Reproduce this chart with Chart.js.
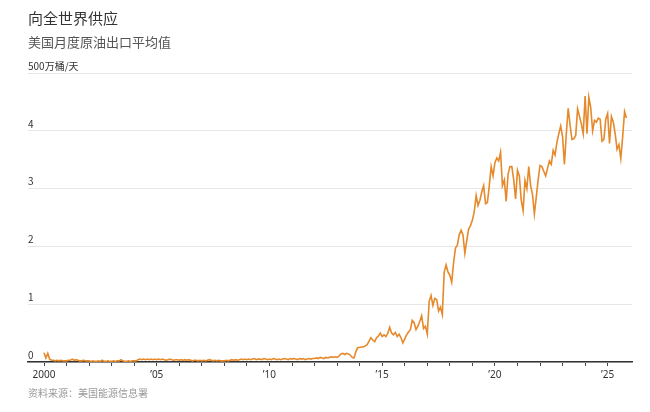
<!DOCTYPE html>
<html>
<head>
<meta charset="utf-8">
<script src="https://cdn.jsdelivr.net/npm/chart.js@4"></script>
<style>
  body { margin: 0; background: #fff; }
  #wrap { position: relative; width: 650px; height: 412px; font-family: "Noto Sans CJK SC", "Noto Sans", sans-serif; }
  #wrap canvas { position: absolute; left: 0; top: 0; }
  .txt { position: absolute; left: 28px; line-height: 1; white-space: nowrap; }
  #title { top: 10px; font-size: 15px; color: #333; }
  #subtitle { top: 35px; font-size: 13px; color: #555; }
  #source { top: 388px; font-size: 10px; color: #999; }
</style>
</head>
<body>
<div id="wrap">
  <canvas id="chart" width="650" height="412"></canvas>
  <div class="txt" id="title">向全世界供应</div>
  <div class="txt" id="subtitle">美国月度原油出口平均值</div>
  <div class="txt" id="source">资料来源：美国能源信息署</div>
</div>
<script>
// 美国月度原油出口, 百万桶/天 (图上读数)
const years = [2000, 2001, 2002, 2003, 2004, 2005, 2006, 2007, 2008, 2009, 2010, 2011, 2012,
               2013, 2014, 2015, 2016, 2017, 2018, 2019, 2020, 2021, 2022, 2023, 2024, 2025];

const v2000 = [0.16, 0.07, 0.15, 0.05, 0.03, 0.03, 0.02, 0.03, 0.02, 0.03, 0.02, 0.02];
const v2001 = [0.02, 0.03, 0.03, 0.05, 0.03, 0.04, 0.03, 0.02, 0.02, 0.03, 0.02, 0.02];
const v2002 = [0.02, 0.01, 0.02, 0.01, 0.01, 0.02, 0.01, 0.03, 0.01, 0.01, 0.02, 0.01];
const v2003 = [0.01, 0.02, 0.01, 0.02, 0.02, 0.04, 0.02, 0.01, 0.01, 0.02, 0.01, 0.02];
const v2004 = [0.02, 0.02, 0.04, 0.05, 0.04, 0.05, 0.04, 0.05, 0.04, 0.05, 0.04, 0.05];
const v2005 = [0.04, 0.05, 0.04, 0.05, 0.04, 0.03, 0.04, 0.05, 0.04, 0.03, 0.04, 0.04];
const v2006 = [0.03, 0.04, 0.03, 0.04, 0.03, 0.04, 0.03, 0.02, 0.03, 0.03, 0.02, 0.03];
const v2007 = [0.02, 0.03, 0.02, 0.03, 0.04, 0.03, 0.02, 0.03, 0.02, 0.03, 0.02, 0.02];
const v2008 = [0.02, 0.03, 0.02, 0.03, 0.04, 0.03, 0.04, 0.03, 0.04, 0.05, 0.04, 0.05];
const v2009 = [0.04, 0.05, 0.04, 0.05, 0.06, 0.04, 0.05, 0.05, 0.04, 0.06, 0.05, 0.04];
const v2010 = [0.05, 0.04, 0.06, 0.05, 0.04, 0.05, 0.04, 0.05, 0.06, 0.05, 0.04, 0.06];
const v2011 = [0.05, 0.06, 0.05, 0.04, 0.06, 0.05, 0.06, 0.04, 0.05, 0.06, 0.05, 0.06];
const v2012 = [0.06, 0.07, 0.06, 0.08, 0.07, 0.06, 0.08, 0.07, 0.08, 0.09, 0.08, 0.09];
const v2013 = [0.08, 0.10, 0.14, 0.15, 0.13, 0.15, 0.14, 0.12, 0.08, 0.07, 0.18, 0.25];
const v2014 = [0.25, 0.26, 0.26, 0.28, 0.30, 0.36, 0.42, 0.38, 0.35, 0.42, 0.45, 0.50];
const v2015 = [0.44, 0.47, 0.44, 0.50, 0.60, 0.50, 0.47, 0.51, 0.44, 0.48, 0.42, 0.33];
const v2016 = [0.40, 0.47, 0.52, 0.56, 0.72, 0.68, 0.56, 0.62, 0.70, 0.80, 0.58, 0.62];
const v2017 = [0.48, 1.05, 1.15, 0.98, 1.10, 1.08, 0.88, 0.95, 0.82, 1.55, 1.68, 1.56];
const v2018 = [1.50, 1.38, 1.72, 1.97, 2.02, 2.20, 2.28, 2.20, 1.88, 2.10, 2.30, 2.36];
const v2019 = [2.45, 2.60, 2.88, 2.71, 2.80, 2.94, 3.05, 2.74, 2.76, 3.05, 3.38, 3.22];
const v2020 = [3.45, 3.53, 3.48, 3.63, 3.05, 3.15, 2.78, 3.25, 3.38, 3.38, 3.15, 2.82];
const v2021 = [3.32, 3.22, 2.80, 2.62, 3.14, 3.00, 3.38, 3.05, 2.90, 2.56, 2.85, 3.15];
const v2022 = [3.40, 3.38, 3.30, 3.22, 3.35, 3.48, 3.42, 3.66, 3.58, 3.80, 3.95, 4.08];
const v2023 = [3.90, 3.42, 3.95, 4.39, 4.10, 3.85, 3.86, 3.92, 4.38, 4.25, 4.12, 3.95];
const v2024 = [4.60, 3.95, 4.58, 4.40, 4.00, 4.18, 4.15, 4.22, 4.20, 3.82, 3.85, 4.20];
const v2025 = [4.30, 3.78, 4.25, 4.15, 3.95, 3.68, 3.76, 3.52, 3.90, 4.33, 4.22];

const yearValues = [v2000, v2001, v2002, v2003, v2004, v2005, v2006, v2007, v2008, v2009, v2010, v2011, v2012,
                    v2013, v2014, v2015, v2016, v2017, v2018, v2019, v2020, v2021, v2022, v2023, v2024, v2025];

const yTicks = [0, 1, 2, 3, 4, 5];
const yUnit = '500万桶/天';

const points = [];
years.forEach((yr, i) => {
  yearValues[i].forEach((v, m) => points.push({ x: yr + m / 12, y: v }));
});

const ctx = document.getElementById('chart');

const myChart = new Chart(ctx, {
  type: 'line',
  data: {
    datasets: [
      {
        label: '原油出口',
        data: points,
        borderColor: '#e5892a',
        borderWidth: 1.6,
        pointRadius: 0,
        tension: 0,
        fill: false
      }
    ]
  },
  options: {
    responsive: false,
    animation: false,
    layout: { padding: { left: 28, right: 18, top: 73, bottom: 28 } },
    plugins: { legend: { display: false }, tooltip: { enabled: false } },
    scales: {
      x: {
        type: 'linear',
        min: 1999.29,
        max: 2026.08,
        afterBuildTicks: (scale) => {
          scale.ticks = years.map(y => ({ value: y }));
        },
        ticks: {
          autoSkip: false,
          maxRotation: 0,
          padding: 3,
          color: '#333',
          font: { family: '"Noto Sans", sans-serif', size: 10 },
          callback: (v) => v % 5 !== 0 ? '' : (v === 2000 ? '2000' : '\u2019' + String(v).slice(2))
        },
        grid: { drawOnChartArea: false, drawTicks: true, tickLength: 4, tickColor: '#444' },
        border: { display: true, color: '#333', width: 1.5 }
      },
      y: {
        min: 0,
        max: 5,
        afterBuildTicks: (scale) => {
          scale.ticks = yTicks.map(v => ({ value: v }));
        },
        ticks: {
          mirror: true,
          padding: 0,
          labelOffset: -7,
          color: '#333',
          font: { family: '"Noto Sans CJK SC", "Noto Sans", sans-serif', size: 10 },
          callback: (v) => v === 5 ? yUnit : String(v)
        },
        grid: { color: '#e6e6e6', lineWidth: 1, drawTicks: false },
        border: { display: false }
      }
    }
  }
});
</script>
</body>
</html>
